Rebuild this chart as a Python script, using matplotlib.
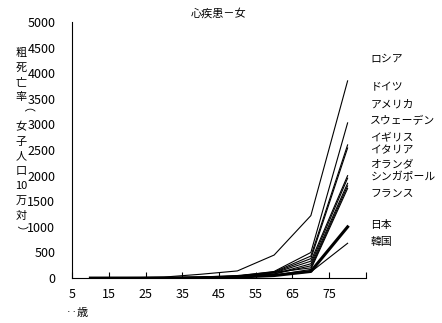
import numpy as np
import matplotlib.pyplot as plt

plt.rcParams['font.family'] = ['Noto Sans CJK JP', 'DejaVu Sans']

ages = [10, 20, 30, 40, 50, 60, 70, 80]

countries = ['ロシア', 'ドイツ', 'アメリカ', 'スウェーデン', 'イギリス', 'イタリア',
             'オランダ', 'シンガポール', 'フランス', '日本', '韓国']

russia = [2, 5, 20, 75, 140, 450, 1220, 3850]
germany = [0.5, 1, 4, 12, 40, 130, 500, 3030]
usa = [0.5, 2, 6, 20, 50, 120, 430, 2600]
sweden = [0.5, 1, 3, 10, 35, 110, 380, 2540]
uk = [0.5, 1, 3, 10, 30, 100, 330, 2000]
italy = [0.5, 1, 3, 8, 25, 80, 280, 1950]
netherlands = [0.5, 1, 3, 8, 25, 80, 240, 1850]
singapore = [0.5, 2, 5, 15, 40, 110, 200, 1800]
france = [0.5, 1, 2, 6, 18, 55, 170, 1750]
japan = [0.5, 1, 3, 8, 20, 50, 130, 1000]
korea = [0.5, 2, 5, 12, 30, 60, 120, 680]

series = [russia, germany, usa, sweden, uk, italy, netherlands, singapore,
          france, japan, korea]

# label heights (data units) as they sit to the right of the plot
label_y = [4280, 3720, 3390, 3060, 2750, 2500, 2220, 1970, 1640, 1040, 710]

xticks = [5, 15, 25, 35, 45, 55, 65, 75, 85]
xtick_labels = ['5', '15', '25', '35', '45', '55', '65', '75', '']

ylabel_parts = ['粗', '死', '亡', '率', '（', '女', '子', '人', '口', '10', '万', '対', '）']

fig = plt.figure(figsize=(4.42, 3.23), dpi=100)
ax = fig.add_axes([0.163, 0.139, 0.665, 0.793])

for name, vals in zip(countries, series):
    lw = 2.2 if name == '日本' else 0.8
    ax.plot(ages, vals, color='black', lw=lw)

for name, y in zip(countries, label_y):
    ax.text(86.2, y, name, fontsize=7.8, va='center', ha='left', clip_on=False)

ax.set_xlim(5, 85)
ax.set_ylim(0, 5000)
ax.set_xticks(xticks)
ax.set_xticklabels(xtick_labels)
ax.set_yticks(np.arange(0, 5001, 500))
ax.tick_params(axis='x', direction='in', length=4, labelsize=9, pad=7)
ax.tick_params(axis='y', length=0, labelsize=9, pad=12)
ax.spines['top'].set_visible(False)
ax.spines['right'].set_visible(False)
ax.set_title('心疾患－女', fontsize=8, pad=4)

# vertical y label, one character per row; brackets turned sideways
y0 = 1 - 53 / 323
step = 14.8 / 323
for i, ch in enumerate(ylabel_parts):
    rot = -90 if ch in '（）' else 0
    fig.text(0.047, y0 - i * step, ch, fontsize=8, ha='center', va='center',
             rotation=rot)
fig.text(0.15, 0.03, '‥歳', fontsize=8, ha='left', va='center')

fig.savefig('out.png', dpi=100)
